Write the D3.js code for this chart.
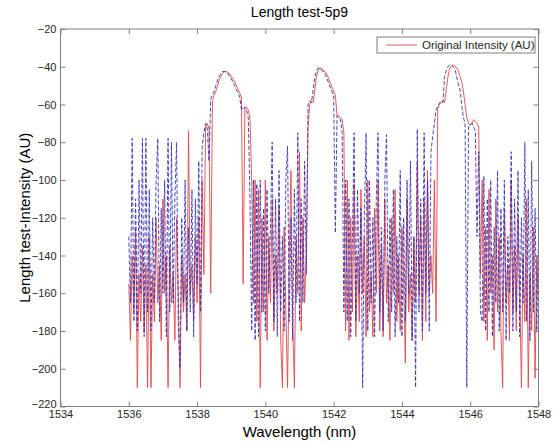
<!DOCTYPE html>
<html><head><meta charset="utf-8">
<script src="https://cdn.jsdelivr.net/npm/d3@7"></script>
<style>body{margin:0;background:#fff}svg{display:block}text{font-family:"Liberation Sans",Arial,sans-serif}</style>
</head><body><svg id="c" width="555" height="444"></svg>
<script>
const chartTitle = "Length test-5p9";
const xLabel = "Wavelength (nm)";
const yLabel = "Length test-Intensity (AU)";
const legendLabel = "Original Intensity (AU)";
const xTicks = [1534, 1536, 1538, 1540, 1542, 1544, 1546, 1548];
const yTicks = [-220, -200, -180, -160, -140, -120, -100, -80, -60, -40, -20];

const wavelength = [
1536.00,1536.05,1536.10,1536.15,1536.20,1536.25,1536.30,1536.35,1536.40,1536.45,1536.50,1536.55,1536.60,1536.65,1536.70,1536.75,1536.80,1536.85,1536.90,1536.95,
1537.00,1537.05,1537.10,1537.15,1537.20,1537.25,1537.30,1537.35,1537.40,1537.45,1537.50,1537.55,1537.60,1537.65,1537.70,1537.75,1537.80,1537.85,1537.90,1537.95,
1538.00,1538.05,1538.10,1538.15,1538.20,1538.25,1538.30,1538.35,1538.40,1538.45,1538.50,1538.55,1538.60,1538.65,1538.70,1538.75,1538.80,1538.85,1538.90,1538.95,
1539.00,1539.05,1539.10,1539.15,1539.20,1539.25,1539.30,1539.35,1539.40,1539.45,1539.50,1539.55,1539.60,1539.65,1539.70,1539.75,1539.80,1539.85,1539.90,1539.95,
1540.00,1540.05,1540.10,1540.15,1540.20,1540.25,1540.30,1540.35,1540.40,1540.45,1540.50,1540.55,1540.60,1540.65,1540.70,1540.75,1540.80,1540.85,1540.90,1540.95,
1541.00,1541.05,1541.10,1541.15,1541.20,1541.25,1541.30,1541.35,1541.40,1541.45,1541.50,1541.55,1541.60,1541.65,1541.70,1541.75,1541.80,1541.85,1541.90,1541.95,
1542.00,1542.05,1542.10,1542.15,1542.20,1542.25,1542.30,1542.35,1542.40,1542.45,1542.50,1542.55,1542.60,1542.65,1542.70,1542.75,1542.80,1542.85,1542.90,1542.95,
1543.00,1543.05,1543.10,1543.15,1543.20,1543.25,1543.30,1543.35,1543.40,1543.45,1543.50,1543.55,1543.60,1543.65,1543.70,1543.75,1543.80,1543.85,1543.90,1543.95,
1544.00,1544.05,1544.10,1544.15,1544.20,1544.25,1544.30,1544.35,1544.40,1544.45,1544.50,1544.55,1544.60,1544.65,1544.70,1544.75,1544.80,1544.85,1544.90,1544.95,
1545.00,1545.05,1545.10,1545.15,1545.20,1545.25,1545.30,1545.35,1545.40,1545.45,1545.50,1545.55,1545.60,1545.65,1545.70,1545.75,1545.80,1545.85,1545.90,1545.95,
1546.00,1546.05,1546.10,1546.15,1546.20,1546.25,1546.30,1546.35,1546.40,1546.45,1546.50,1546.55,1546.60,1546.65,1546.70,1546.75,1546.80,1546.85,1546.90,1546.95,
1547.00,1547.05,1547.10,1547.15,1547.20,1547.25,1547.30,1547.35,1547.40,1547.45,1547.50,1547.55,1547.60,1547.65,1547.70,1547.75,1547.80,1547.85,1547.90,1547.95,
1548.00];

// red solid series (legend: Original Intensity (AU))
const originalIntensity = [
-155,-185,-140,-170,-125,-210,-150,-175,-135,-180,-145,-210,-130,-210,-150,-175,-120,-165,-145,-185,
-110,-160,-140,-210,-135,-165,-150,-185,-120,-160,-210,-140,-170,-150,-180,-74,-160,-145,-175,-130,
-165,-120,-210,-100,-150,
-72,-70,-73,-160,-58,-55,-53,-50,-47,-45,-43.5,-42.5,-42.5,-43,-43.5,-45,-46.5,-48,-50,-52,-54,-56,-155,-62,-61.5,-63,-67,-100,-165,
-100,-175,-105,-210,-120,-170,-100,-185,-130,-165,-110,-180,-140,-160,-115,-185,-210,-125,-170,-210,-140,-95,-175,-210,-130,-160,-85,-180,-120,-165,-140,
-72,-60,-58,-59,-52,-45,-42,-40.5,-41,-42,-42.5,-44,-46,-48.5,-51,-53,-55,-66,-66,-67,-68,-75,-180,
-100,-185,-120,-170,-102,-183,-140,-175,-105,-160,-130,-183,-100,-170,-150,-183,-115,-160,-100,-180,
-135,-183,-110,-165,-145,-185,-120,-160,-105,-175,-140,-180,-125,-155,-197,-110,-170,-150,-185,-130,
-165,-91,-160,-120,-185,-110,-175,-95,-160,-140,
-160,-100,-175,-62,-60,-59,-58,-59,-52,-45,-41,-39.5,-39,-39.5,-40.5,-42,-45,-48,-53,-60,-67,-70,-71,-70,-68,-69,-70,-72,-150,
-100,-175,-125,-185,-105,-160,-140,-190,-110,-170,-130,-180,-210,-115,-165,-145,-185,-100,-170,-135,
-180,-120,-160,-210,-140,-175,-110,-210,-150,-180,-125,-205,-140,-165];

// blue dashed series
const compareIntensity = [
-130,-165,-78,-175,-110,-180,-100,-160,-78,-183,-78,-170,-105,-180,-120,-165,-100,-78,-175,-115,
-160,-100,-183,-78,-170,-80,-165,-110,-80,-175,-200,-120,-165,-100,-180,-125,-170,-105,-183,-110,
-155,-90,-170,-82,-75,
-70,-73,-90,-57,-55,-53,-50,-47,-45,-43.5,-42.5,-42.5,-43,-43.5,-45,-46.5,-48,-50,-52,-54,-56,-63,-62,-61.5,-63,-67,-110,-180,-100,
-185,-102,-183,-100,-170,-115,-180,-105,-160,-125,-80,-175,-110,-183,-95,-170,-130,-180,-100,-82,-175,-120,-185,-105,-165,-75,-175,-110,-165,-90,-150,
-60,-58,-59,-52,-45,-42,-40.5,-41,-42,-42.5,-44,-46,-48.5,-51,-53,-55,-128,-66,-67,-68,-75,-170,-100,
-175,-110,-183,-130,-75,-175,-105,-160,-115,-210,-120,-75,-180,-100,-165,-120,-183,-110,-75,-170,
-125,-180,-100,-76,-175,-120,-170,-105,-183,-130,-165,-95,-183,-120,-175,-100,-160,-90,-185,-130,
-210,-73,-170,-110,-180,-75,-160,-100,-180,-85,
-77,-70,-63,-61,-59,-58.5,-59,-45,-42,-40,-39,-39.5,-40,-41,-45,-49,-52,-60,-67,-70,-210,-72,-71,-70,-72,-74,-130,-85,-170,
-175,-98,-180,-110,-170,-100,-183,-125,-165,-95,-180,-115,-170,-100,-185,-130,-160,-85,-180,-110,
-170,-95,-183,-120,-165,-80,-175,-105,-185,-90,-170,-115,-180,-130];

const svg = d3.select("#c");
const P = {l: 60.5, r: 538.5, t: 29, b: 406.5};
const x = d3.scaleLinear().domain([1534, 1548]).range([P.l, P.r]);
const y = d3.scaleLinear().domain([-220, -20]).range([P.b, P.t]);
const axisColor = "#7f7f7f", textColor = "#262626";
const redColor = "#e04848", blueColor = "#3232b8";

svg.append("rect").attr("width", 555).attr("height", 444).attr("fill", "#fff");

svg.append("defs").append("clipPath").attr("id", "clip")
  .append("rect").attr("x", P.l).attr("y", P.t).attr("width", P.r - P.l).attr("height", P.b - P.t);

const g = svg.append("g").attr("clip-path", "url(#clip)");
const redPts = wavelength.map((w, i) => [w, originalIntensity[i]]);
const bluePts = wavelength.map((w, i) => [w, compareIntensity[i]]);
const line = d3.line().x(d => x(d[0])).y(d => y(d[1]));
g.append("path").datum(redPts).attr("d", line).attr("fill", "none")
  .attr("stroke", redColor).attr("stroke-width", 0.9);
g.append("path").datum(bluePts).attr("d", line).attr("fill", "none")
  .attr("stroke", blueColor).attr("stroke-width", 0.9).attr("stroke-dasharray", "4,2");

function styleAxis(sel) {
  sel.select(".domain").remove();
  sel.selectAll(".tick line").attr("stroke", axisColor);
  sel.selectAll(".tick text").attr("fill", textColor).attr("font-size", 11)
    .attr("font-family", '"Liberation Sans", Arial, sans-serif');
}
svg.append("g").attr("transform", `translate(0,${P.b})`)
  .call(d3.axisBottom(x).tickValues(xTicks).tickFormat(d3.format("d")).tickSize(-5).tickPadding(4))
  .call(styleAxis);
svg.append("g").attr("transform", `translate(0,${P.t})`)
  .call(d3.axisTop(x).tickValues(xTicks).tickFormat("").tickSize(-5))
  .call(styleAxis);
const yAxisG = svg.append("g").attr("transform", `translate(${P.l},0)`)
  .call(d3.axisLeft(y).tickValues(yTicks).tickFormat(d3.format("d")).tickSize(-5).tickPadding(4))
  .call(styleAxis);
yAxisG.selectAll(".tick text").filter(d => d === -220).attr("dy", "0.05em");
svg.append("g").attr("transform", `translate(${P.r},0)`)
  .call(d3.axisRight(y).tickValues(yTicks).tickFormat("").tickSize(-5))
  .call(styleAxis);

svg.append("rect").attr("x", P.l).attr("y", P.t).attr("width", P.r - P.l).attr("height", P.b - P.t)
  .attr("fill", "none").attr("stroke", axisColor).attr("stroke-width", 1);

// title and labels
svg.append("text").attr("x", (P.l + P.r) / 2).attr("y", 17).attr("text-anchor", "middle")
  .attr("font-size", 14).attr("fill", "#000").text(chartTitle);
svg.append("text").attr("x", (P.l + P.r) / 2).attr("y", 437).attr("text-anchor", "middle")
  .attr("font-size", 15).attr("fill", "#000").text(xLabel);
svg.append("text").attr("transform", `translate(30,${(P.t + P.b) / 2}) rotate(-90)`)
  .attr("text-anchor", "middle").attr("font-size", 15).attr("fill", "#000").text(yLabel);

// legend
const lg = svg.append("g");
lg.append("rect").attr("x", 377).attr("y", 37).attr("width", 158).attr("height", 16)
  .attr("fill", "#fff").attr("stroke", axisColor);
lg.append("line").attr("x1", 386).attr("x2", 417).attr("y1", 45).attr("y2", 45)
  .attr("stroke", redColor).attr("stroke-width", 0.9);
lg.append("text").attr("x", 422).attr("y", 45).attr("dy", "0.35em").attr("font-size", 11.5)
  .attr("fill", textColor).text(legendLabel);
</script></body></html>
